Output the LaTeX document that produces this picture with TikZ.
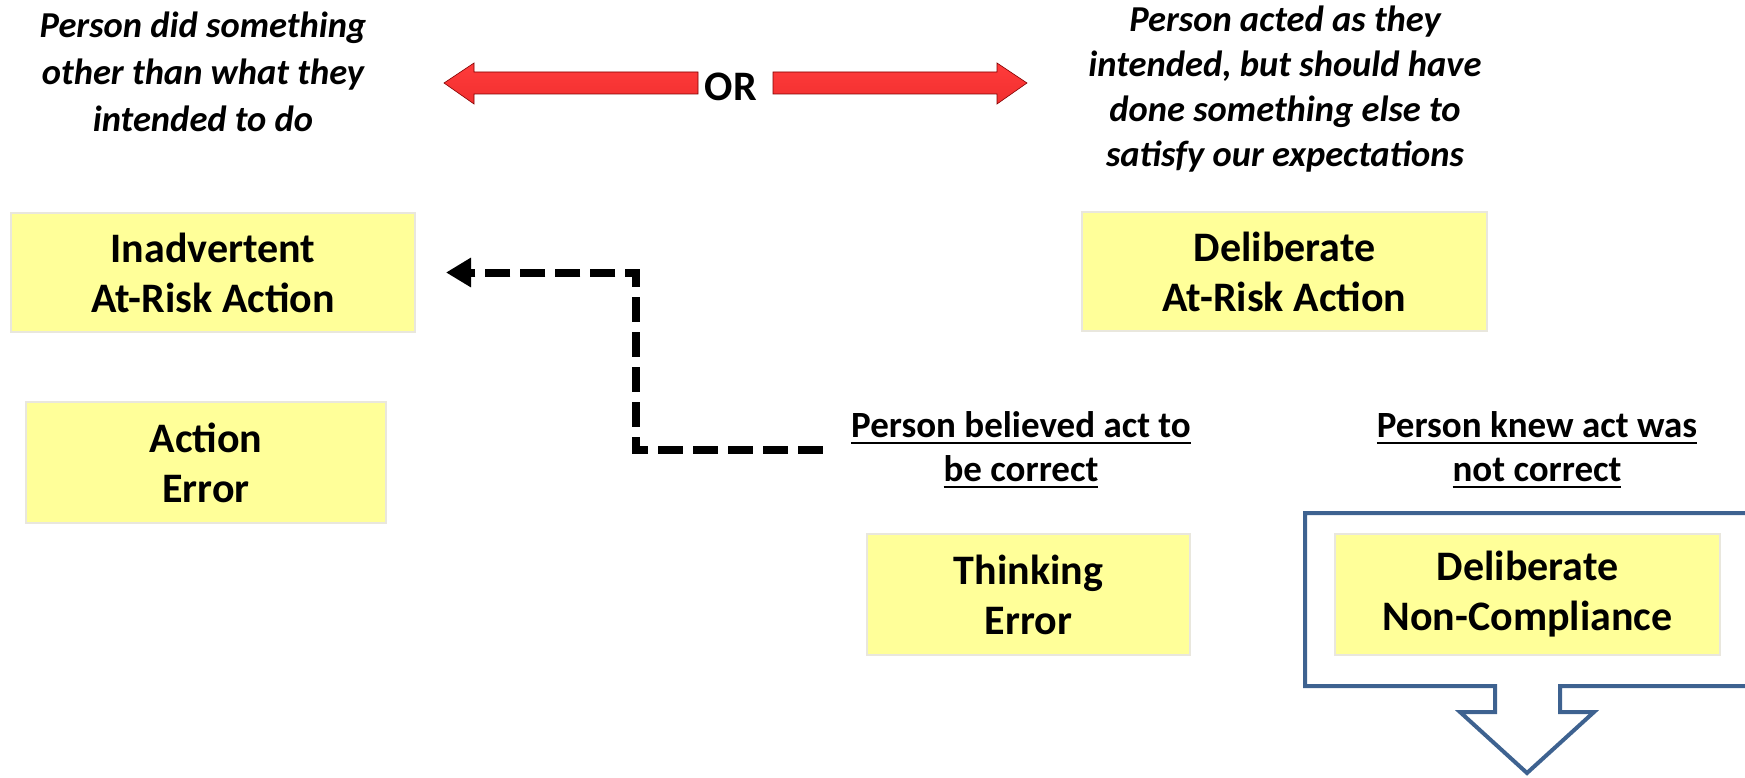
\documentclass[tikz,border=0pt]{standalone}
\usepackage{fontspec}
\setmainfont{Carlito}
\usepackage{xcolor}
\usepackage{tikz}
\usetikzlibrary{arrows.meta,positioning,calc}
\definecolor{boxyellow}{HTML}{FFFF99}
\definecolor{boxedge}{HTML}{E9E7DD}
\definecolor{shapeblue}{HTML}{3E6290}
\definecolor{arrowred}{HTML}{FF3B3B}
\definecolor{arrowdark}{HTML}{BA0000}
\newcommand{\undl}[1]{\setbox0\hbox{#1}\rlap{\rule[-7pt]{\wd0}{2.6pt}}\box0}

\begin{document}
\begin{tikzpicture}[
  x=1pt, y=-1pt,
  box/.style={draw=boxedge, line width=2pt, fill=boxyellow, inner sep=0pt, minimum height=119pt, align=center, font=\fontsize{42}{50}\selectfont\bfseries},
  note/.style={align=center, inner sep=0pt, font=\fontsize{36.5}{45}\selectfont\bfseries\itshape},
  cond/.style={align=center, inner sep=0pt, font=\fontsize{37}{44}\selectfont\bfseries},
  redarrow/.style={top color=arrowred, middle color=arrowdark, bottom color=arrowred!80!arrowdark, draw=arrowdark!70!black, line width=0.6pt},
  dashline/.style={line width=8pt, dash pattern=on 25pt off 10pt, -{Triangle[length=25pt,width=28pt]}},
  blockarrow/.style={draw=shapeblue, line width=4pt, line join=miter}
]
\useasboundingbox (0,0) rectangle (1745,778);
\clip (0,0) rectangle (1745,778);

\node[note, font=\fontsize{36.5}{47}\selectfont\bfseries\itshape] (intended) at (203,72) {Person did something\\other than what they\\intended to do};
\node[note] (expect) at (1285,89) {Person acted as they\\intended, but should have\\done something else to\\satisfy our expectations};
\node[font=\fontsize{42}{50}\selectfont\bfseries, inner sep=0pt] (or) at (731,87) {OR};

\shade[redarrow] (444,83) -- (474,63) -- (474,72) -- (698,72) -- (698,94) -- (474,94) -- (474,104) -- cycle;
\shade[redarrow] (1027,83) -- (997,63) -- (997,72) -- (773,72) -- (773,94) -- (997,94) -- (997,104) -- cycle;

\node[box, minimum width=404pt] (inadv) at (213,272.5) {Inadvertent\\At-Risk Action};
\node[box, minimum width=360pt, minimum height=121pt] (aerr) at (206,462.5) {Action\\Error};
\node[box, minimum width=405pt] (delib) at (1284.5,271.5) {Deliberate\\At-Risk Action};

\node[cond] (believed) at (1021,450) {\undl{Person believed act to}\\\undl{be correct}};
\node[cond] (knew) at (1537,450) {\undl{Person knew act was}\\\undl{not correct}};

\draw[blockarrow] (1305,513) -- (1752,513) -- (1752,686) -- (1560,686) -- (1560,712) -- (1594,712) -- (1527,773) -- (1460,712) -- (1495,712) -- (1495,686) -- (1305,686) -- cycle;

\node[box, minimum width=323pt, minimum height=121pt] (think) at (1028.5,594.5) {Thinking\\Error};
\node[box, minimum width=385pt, minimum height=121pt] (noncomp) at (1527.5,594.5) {Deliberate\\Non-Compliance};

\draw[dashline] ([xshift=-28pt]believed.west) -| ([xshift=220pt]inadv.east) -- ([xshift=30pt]inadv.east);
\end{tikzpicture}
\end{document}
